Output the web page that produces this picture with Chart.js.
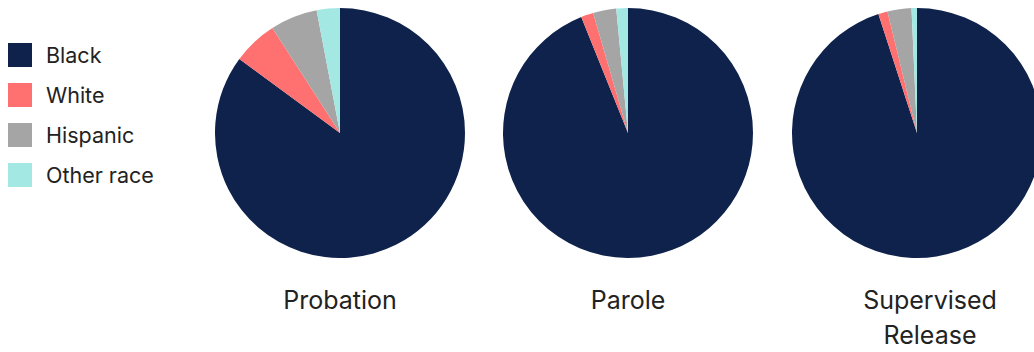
<!DOCTYPE html>
<html>
<head>
<meta charset="utf-8">
<script src="https://cdn.jsdelivr.net/npm/chart.js@4"></script>
<style>
  html, body { margin: 0; padding: 0; background: #fff; overflow: hidden; }
  body { width: 1034px; height: 352px; position: relative; font-family: Inter, "Noto Sans", sans-serif; color: #222; }
  .pie { position: absolute; top: 8px; width: 250px; height: 250px; }
  .label { position: absolute; width: 200px; text-align: center; font-size: 25px; line-height: 35px; top: 283px; }
  #legend { position: absolute; left: 8px; top: 35px; }
  .item { height: 40px; display: flex; align-items: center; font-size: 21.5px; }
  .swatch { width: 24px; height: 24px; margin-right: 14px; }
</style>
</head>
<body>
<div id="legend"></div>
<div class="pie" style="left:215px"><canvas id="pie0"></canvas></div>
<div class="pie" style="left:503px"><canvas id="pie1"></canvas></div>
<div class="pie" style="left:792px"><canvas id="pie2"></canvas></div>
<div class="label" style="left:240px">Probation</div>
<div class="label" style="left:528px">Parole</div>
<div class="label" style="left:830px">Supervised<br>Release</div>
<script>
const races = ['Black', 'White', 'Hispanic', 'Other race'];
const colors = ['#0e224b', '#ff7070', '#a5a5a5', '#a3e8e3'];

// share of each group, percent
const probation = [85.1, 5.8, 6.1, 3.0];
const parole = [93.9, 1.6, 3.0, 1.5];
const supervised = [95.0, 1.2, 3.1, 0.7];

const legend = document.getElementById('legend');
races.forEach((r, i) => {
    const row = document.createElement('div');
    row.className = 'item';
    row.innerHTML = `<span class="swatch" style="background:${colors[i]}"></span>${r}`;
    legend.appendChild(row);
});

const drawPie = (id, values) => {
    const ctx = document.getElementById(id).getContext('2d');
    return new Chart(ctx, {
        type: 'pie',
        data: {
            labels: races,
            datasets: [{
                data: values,
                backgroundColor: colors,
                borderWidth: 0
            }]
        },
        options: {
            responsive: true,
            maintainAspectRatio: false,
            animation: false,
            layout: { padding: 0 },
            plugins: { legend: { display: false }, tooltip: { enabled: false } }
        }
    });
}

drawPie('pie0', probation);
drawPie('pie1', parole);
drawPie('pie2', supervised);
</script>
</body>
</html>
